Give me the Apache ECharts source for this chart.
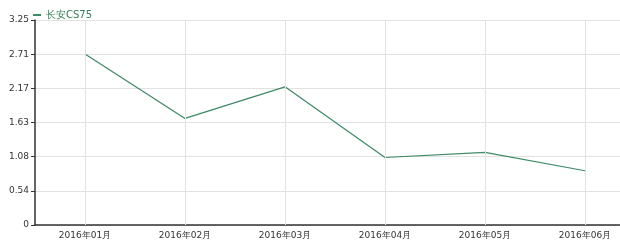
<!DOCTYPE html>
<html><head><meta charset="utf-8">
<script src="https://cdn.jsdelivr.net/npm/echarts@6/dist/echarts.min.js"></script>
<style>html,body{margin:0;padding:0;background:#fff;overflow:hidden}#c{width:650px;height:247px}</style>
</head><body><div id="c"></div>
<script>
const categories = ['2016年01月','2016年02月','2016年03月','2016年04月','2016年05月','2016年06月'];
const seriesName = '长安CS75';
const values = [2.71, 1.69, 2.19, 1.07, 1.15, 0.86];
const yTickLabels = ['0','0.54','1.08','1.63','2.17','2.71','3.25'];
const yMax = 3.25;

const chart = echarts.init(document.getElementById('c'));
const interval = yMax / (yTickLabels.length - 1);
const lineColor = '#3d8a66';
chart.setOption({
  animation: false,
  textStyle: {fontFamily: 'DejaVu Sans'},
  legend: {
    left: 28, top: 5, itemWidth: 8, itemHeight: 2, itemGap: 3,
    icon: 'rect',
    textStyle: {color: '#2f7d55', fontSize: 10, fontFamily: 'DejaVu Sans'},
    data: [seriesName]
  },
  grid: {left: 35, top: 20, width: 600, height: 205, containLabel: false},
  xAxis: {
    type: 'category', data: categories, boundaryGap: true,
    axisLine: {lineStyle: {color: '#333', width: 1.5}},
    axisTick: {alignWithLabel: true, length: 4, lineStyle: {color: '#333'}},
    axisLabel: {color: '#333', fontSize: 9, margin: 6, fontFamily: 'DejaVu Sans'},
    splitLine: {show: false}
  },
  yAxis: {
    type: 'value', min: 0, max: yMax, interval: interval,
    axisLine: {show: true, lineStyle: {color: '#333', width: 1.5}},
    axisTick: {show: true, length: 4, lineStyle: {color: '#333'}},
    axisLabel: {color: '#333', fontSize: 9, margin: 6, fontFamily: 'DejaVu Sans',
      formatter: v => yTickLabels[Math.round(v / interval)]},
    splitLine: {lineStyle: {color: '#e2e2e2', width: 1}}
  },
  series: [{
    name: seriesName, type: 'line', data: values,
    symbol: 'none', lineStyle: {color: lineColor, width: 1.2},
    itemStyle: {color: lineColor},
    markLine: {
      silent: true, symbol: 'none', label: {show: false},
      lineStyle: {color: '#e2e2e2', type: 'solid', width: 1},
      emphasis: {disabled: true},
      data: categories.map(c => ({xAxis: c}))
    }
  }]
});
</script></body></html>
